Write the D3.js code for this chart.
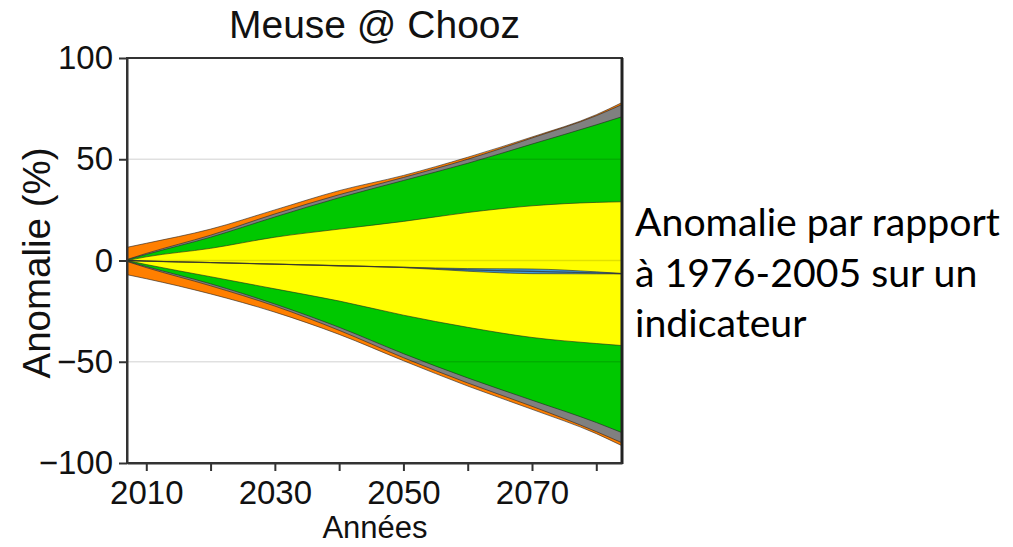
<!DOCTYPE html>
<html><head><meta charset="utf-8">
<script src="https://cdn.jsdelivr.net/npm/d3@7"></script>
<style>body{margin:0;background:#fff}svg{display:block}</style>
</head><body>
<svg id="chart" width="1013" height="547"></svg>
<script>
// ---- data ----
const years      = [2007, 2010, 2020, 2030, 2040, 2050, 2060, 2070, 2080, 2084];
const orangeHigh = [6.5, 8.5, 15.5, 25, 34.5, 42, 51, 61, 72, 78];
const grayHigh   = [0.5, 3.5, 12.5, 23, 32.5, 41, 50, 60.5, 71.5, 77];
const greenHigh  = [0.3, 3, 11.5, 21.5, 31, 39.5, 48, 57.5, 67, 71];
const yellowHigh = [0, 1.8, 6, 11.5, 15.5, 19.3, 23.7, 27, 28.7, 29];
const medianHigh = [0, -0.3, -1, -1.8, -2.6, -3.3, -4.0, -4.2, -5.6, -6.4];
const medianLow  = [0, -0.3, -1, -1.8, -2.6, -3.5, -5.3, -6.5, -6.6, -6.6];
const yellowLow  = [0, -2, -8, -14, -20, -27, -33, -38, -41, -42];
const greenLow   = [-0.3, -3, -11.5, -21.5, -33, -46, -58, -69, -80, -85];
const grayLow    = [-0.5, -3.5, -12.5, -22.5, -34.5, -48, -60.5, -72, -84.5, -90];
const orangeLow  = [-7, -9, -16.5, -25.5, -36.5, -49.5, -62, -73.5, -85.5, -91.5];

const yTicks = [-100, -50, 0, 50, 100];
const yGrid = [-50, 0, 50];
const xTicks = [2010, 2020, 2030, 2040, 2050, 2060, 2070, 2080];
const xLabelled = [2010, 2030, 2050, 2070];

const title = "Meuse @ Chooz";
const xTitle = "Années";
const yTitle = "Anomalie (%)";
const note = ["Anomalie par rapport", "à 1976-2005 sur un", "indicateur"];

// ---- layout ----
const svg = d3.select("#chart");
const L = 127, R = 622, T = 58, B = 463;
const x = d3.scaleLinear().domain([2007, 2084]).range([L, R]);
const y = d3.scaleLinear().domain([-100, 100]).range([B, T]);

const bands = [
  {lo: orangeLow, hi: orangeHigh, fill: "#ff7f00"},
  {lo: grayLow,   hi: grayHigh,   fill: "#808080"},
  {lo: greenLow,  hi: greenHigh,  fill: "#00c800"},
  {lo: yellowLow, hi: yellowHigh, fill: "#ffff00"},
  {lo: medianLow, hi: medianHigh, fill: "#3d9be0"}
];

const area = d3.area()
  .x(d => x(d.year)).y0(d => y(d.lo)).y1(d => y(d.hi))
  .curve(d3.curveMonotoneX);

svg.append("defs").append("clipPath").attr("id", "plotclip")
  .append("rect").attr("x", L).attr("y", T).attr("width", R - L).attr("height", B - T);

const g = svg.append("g").attr("clip-path", "url(#plotclip)");
bands.forEach(b => {
  const pts = years.map((yr, i) => ({year: yr, lo: b.lo[i], hi: b.hi[i]}));
  g.append("path").datum(pts).attr("d", area)
    .attr("fill", b.fill).attr("stroke", "#222").attr("stroke-opacity", 0.75)
    .attr("stroke-width", 0.8);
});
// median line
const mline = d3.line().x(d => x(d.year)).y(d => y(d.v)).curve(d3.curveMonotoneX);
g.append("path")
  .datum(years.map((yr, i) => ({year: yr, v: (medianHigh[i] + medianLow[i]) / 2})))
  .attr("d", mline).attr("fill", "none").attr("stroke", "#333").attr("stroke-width", 1.3)
  .attr("stroke-opacity", 0.75);

// gridlines on top
g.selectAll("line.grid").data(yGrid).join("line").attr("class", "grid")
  .attr("x1", L).attr("x2", R).attr("y1", d => y(d)).attr("y2", d => y(d))
  .attr("stroke", "#000").attr("stroke-opacity", 0.12).attr("stroke-width", 1.5);

// frame
svg.append("rect").attr("x", L).attr("y", T).attr("width", R - L).attr("height", B - T)
  .attr("fill", "none").attr("stroke", "#333").attr("stroke-width", 2);
svg.append("line").attr("x1", R).attr("x2", R).attr("y1", T).attr("y2", B + 1)
  .attr("stroke", "#222").attr("stroke-width", 3);

const font = "'Liberation Sans', Arial, sans-serif";

// axes
const yAxis = d3.axisLeft(y).tickValues(yTicks).tickSize(8).tickSizeOuter(0).tickPadding(6);
const ya = svg.append("g").attr("transform", `translate(${L},0)`).call(yAxis);
const xAxis = d3.axisBottom(x).tickValues(xTicks).tickSize(8).tickSizeOuter(0).tickPadding(10)
  .tickFormat(d => xLabelled.includes(d) ? String(d) : "");
const xa = svg.append("g").attr("transform", `translate(0,${B})`).call(xAxis);
[ya, xa].forEach(a => {
  a.select(".domain").attr("stroke", "#333").attr("stroke-width", 2);
  a.selectAll(".tick line").attr("stroke", "#333").attr("stroke-width", 2);
  a.selectAll("text").attr("font-family", font).attr("font-size", 33).attr("fill", "#111");
});

// titles
svg.append("text").attr("x", (L + R) / 2).attr("y", 38).attr("text-anchor", "middle")
  .attr("font-family", font).attr("font-size", 39).attr("fill", "#111").text(title);
svg.append("text").attr("x", 375).attr("y", 538).attr("text-anchor", "middle")
  .attr("font-family", font).attr("font-size", 31).attr("fill", "#111").text(xTitle);
svg.append("text").attr("transform", "translate(50,263) rotate(-90)").attr("text-anchor", "middle")
  .attr("font-family", font).attr("font-size", 38.5).attr("fill", "#111").text(yTitle);

// side note
const noteFont = "Lato, 'Open Sans', sans-serif";
const probe = svg.append("text").attr("font-family", noteFont).attr("font-size", 100).text(note[0]);
const w100 = probe.node().getComputedTextLength();
probe.remove();
const nfs = 100 * 365 / w100;
const noteY = [236, 287, 337];
note.forEach((t, i) => {
  svg.append("text").attr("x", 635).attr("y", noteY[i])
    .attr("font-family", noteFont).attr("font-size", nfs).attr("fill", "#000").text(t);
});
</script>
</body></html>
